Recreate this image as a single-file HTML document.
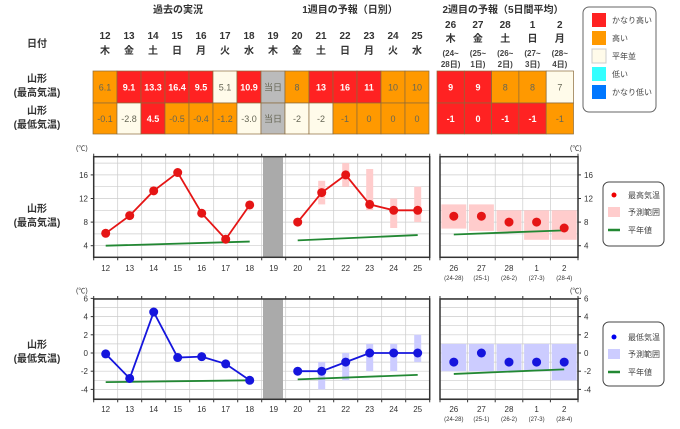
<!DOCTYPE html>
<html><head><meta charset="utf-8"><style>
body{margin:0;background:#fff;}
svg{display:block;font-family:"Liberation Sans","Noto Sans CJK JP",sans-serif;}
</style></head><body>
<svg width="680" height="429" viewBox="0 0 680 429" xmlns="http://www.w3.org/2000/svg">
<g font-size="10" font-weight="bold" fill="#333" text-anchor="middle">
<text x="178" y="13">過去の実況</text>
<text x="350" y="13">1週目の予報（日別）</text>
<text x="503" y="13">2週目の予報（5日間平均）</text>
<text x="37" y="47">日付</text>
<text x="37" y="82">山形</text><text x="37" y="96">(最高気温)</text>
<text x="37" y="114">山形</text><text x="37" y="128">(最低気温)</text>
<text x="37" y="212">山形</text><text x="37" y="226">(最高気温)</text>
<text x="37" y="348">山形</text><text x="37" y="362">(最低気温)</text>
</g>
<g id="tbl"></g>
<g id="charts"></g>
<!-- top legend -->
<rect x="583" y="7" width="73" height="105" rx="6" fill="#fff" stroke="#666"/>
<g font-size="8" fill="#444">
<rect x="592" y="13" width="14" height="14" fill="#f22"/><text x="612" y="23">かなり高い</text>
<rect x="592" y="31" width="14" height="14" fill="#f90"/><text x="612" y="41">高い</text>
<rect x="592" y="49" width="14" height="14" fill="#fffbea" stroke="#ccc"/><text x="612" y="59">平年並</text>
<rect x="592" y="67" width="14" height="14" fill="#3ff"/><text x="612" y="77">低い</text>
<rect x="592" y="85" width="14" height="14" fill="#07f"/><text x="612" y="95">かなり低い</text>
</g>
<!-- chart legends -->
<rect x="603" y="182" width="61" height="64" rx="6" fill="#fff" stroke="#444"/>
<g font-size="8" fill="#444">
<circle cx="614" cy="195" r="2.5" fill="#e00"/><text x="628" y="198">最高気温</text>
<rect x="608" y="207" width="12" height="10" fill="#fcc"/><text x="628" y="215">予測範囲</text>
<line x1="608" y1="230" x2="620" y2="230" stroke="#283" stroke-width="2.5"/><text x="628" y="233">平年値</text>
</g>
<rect x="603" y="322" width="61" height="64" rx="6" fill="#fff" stroke="#444"/>
<g font-size="8" fill="#444">
<circle cx="614" cy="337" r="2.5" fill="#00e"/><text x="628" y="340">最低気温</text>
<rect x="608" y="349" width="12" height="10" fill="#ccf"/><text x="628" y="357">予測範囲</text>
<line x1="608" y1="372" x2="620" y2="372" stroke="#283" stroke-width="2.5"/><text x="628" y="375">平年値</text>
</g>
</svg>
<script>
const NS="http://www.w3.org/2000/svg";
function el(p,t,a,txt){const e=document.createElementNS(NS,t);for(const k in a)e.setAttribute(k,a[k]);if(txt!==undefined)e.textContent=txt;p.appendChild(e);return e;}
const R="#f22",O="#f90",C="#fffbea",G="#bbb";
const tbl=document.getElementById('tbl');
const days=[12,13,14,15,16,17,18,19,20,21,22,23,24,25];
const wd=["木","金","土","日","月","火","水","木","金","土","日","月","火","水"];
const hi=[["6.1",O],["9.1",R],["13.3",R],["16.4",R],["9.5",R],["5.1",C],["10.9",R],["当日",G],["8",O],["13",R],["16",R],["11",R],["10",O],["10",O]];
const lo=[["-0.1",O],["-2.8",C],["4.5",R],["-0.5",O],["-0.4",O],["-1.2",O],["-3.0",C],["当日",G],["-2",C],["-2",C],["-1",O],["0",O],["0",O],["0",O]];
function cell(x,y,w,h,v){el(tbl,'rect',{x,y,width:w,height:h,fill:v[1],stroke:'#8a6a3a','stroke-width':0.7});
 const red=v[1]==R;el(tbl,'text',{x:x+w/2,y:y+h/2+3.5,'text-anchor':'middle','font-size':9,'font-weight':red?'bold':'normal',fill:red?'#fff':'#665'},v[0]);}
days.forEach((d,i)=>{const x=93+i*24;
 el(tbl,'text',{x:x+12,y:39,'text-anchor':'middle','font-size':10,'font-weight':'bold',fill:'#333'},d);
 el(tbl,'text',{x:x+12,y:54,'text-anchor':'middle','font-size':10,'font-weight':'bold',fill:'#333'},wd[i]);
 cell(x,71,24,32,hi[i]);cell(x,103,24,31,lo[i]);});
const w2=[[26,"木","(24~","28日)"],[27,"金","(25~","1日)"],[28,"土","(26~","2日)"],[1,"日","(27~","3日)"],[2,"月","(28~","4日)"]];
const hi2=[["9",R],["9",R],["8",O],["8",O],["7",C]],lo2=[["-1",R],["0",R],["-1",R],["-1",R],["-1",O]];
w2.forEach((d,i)=>{const x=437+i*27.3,cx=x+13.6;
 el(tbl,'text',{x:cx,y:28,'text-anchor':'middle','font-size':10,'font-weight':'bold',fill:'#333'},d[0]);
 el(tbl,'text',{x:cx,y:42,'text-anchor':'middle','font-size':10,'font-weight':'bold',fill:'#333'},d[1]);
 el(tbl,'text',{x:cx,y:56,'text-anchor':'middle','font-size':8,'font-weight':'bold',fill:'#444'},d[2]);
 el(tbl,'text',{x:cx,y:67,'text-anchor':'middle','font-size':8,'font-weight':'bold',fill:'#444'},d[3]);
 cell(x,71,27.3,32,hi2[i]);cell(x,103,27.3,31,lo2[i]);});

const ch=document.getElementById('charts');
const dx=d=>105.7+(d-12)*24; const wx=i=>453.8+i*27.6;
function chart(cfg){
 const {top,bot,vmin,vmax,step,gstep,Y,col,rc,act,fc,rng,nA,nF,w2v,w2r,w2n,labs,ly}=cfg;
 const L1=93.7,R1=429.7,L2=440,R2=578;
 [[L1,R1],[L2,R2]].forEach(([a,b])=>{
  for(let v=Math.ceil(vmin/gstep)*gstep;v<=vmax;v+=gstep)el(ch,'line',{x1:a,x2:b,y1:Y(v),y2:Y(v),stroke:'#ccc','stroke-width':0.7});
 });
 for(let i=0;i<=14;i++){const x=L1+i*24;if(i>0&&i<14)el(ch,'line',{x1:x,x2:x,y1:top,y2:bot,stroke:'#ccc','stroke-width':0.7});
  el(ch,'line',{x1:x,x2:x,y1:top-3,y2:top,stroke:'#333'});el(ch,'line',{x1:x,x2:x,y1:bot,y2:bot+3,stroke:'#333'});}
 for(let i=0;i<=5;i++){const x=L2+i*27.6;if(i>0&&i<5)el(ch,'line',{x1:x,x2:x,y1:top,y2:bot,stroke:'#ccc','stroke-width':0.7});
  el(ch,'line',{x1:x,x2:x,y1:top-3,y2:top,stroke:'#333'});el(ch,'line',{x1:x,x2:x,y1:bot,y2:bot+3,stroke:'#333'});}
 el(ch,'rect',{x:263,y:top,width:20,height:bot-top,fill:'#aaa'});
 // ranges
 rng.forEach((r,i)=>{if(!r)return;const x=dx(20+i);el(ch,'rect',{x:x-3.5,y:Y(r[1]),width:7,height:Y(r[0])-Y(r[1]),fill:rc});});
 w2r.forEach((r,i)=>{el(ch,'rect',{x:wx(i)-12.5,y:Y(r[1]),width:25,height:Y(r[0])-Y(r[1]),fill:rc});});
 // normals
 el(ch,'line',{x1:dx(12),x2:dx(18),y1:Y(nA[0]),y2:Y(nA[1]),stroke:'#283','stroke-width':1.8});
 el(ch,'line',{x1:dx(20),x2:dx(25),y1:Y(nF[0]),y2:Y(nF[1]),stroke:'#283','stroke-width':1.8});
 el(ch,'line',{x1:wx(0),x2:wx(4),y1:Y(w2n[0]),y2:Y(w2n[1]),stroke:'#283','stroke-width':1.8});
 // lines
 el(ch,'polyline',{points:act.map((v,i)=>dx(12+i)+','+Y(v)).join(' '),fill:'none',stroke:col,'stroke-width':1.8});
 el(ch,'polyline',{points:fc.map((v,i)=>dx(20+i)+','+Y(v)).join(' '),fill:'none',stroke:col,'stroke-width':1.8});
 act.forEach((v,i)=>el(ch,'circle',{cx:dx(12+i),cy:Y(v),r:4.5,fill:col}));
 fc.forEach((v,i)=>el(ch,'circle',{cx:dx(20+i),cy:Y(v),r:4.5,fill:col}));
 w2v.forEach((v,i)=>el(ch,'circle',{cx:wx(i),cy:Y(v),r:4.5,fill:col}));
 // frames
 el(ch,'rect',{x:L1,y:top,width:R1-L1,height:bot-top,fill:'none',stroke:'#333','stroke-width':1.5});
 el(ch,'rect',{x:L2,y:top,width:R2-L2,height:bot-top,fill:'none',stroke:'#333','stroke-width':1.5});
 labs.forEach(v=>{el(ch,'text',{x:88,y:Y(v)+3,'text-anchor':'end','font-size':8,fill:'#333'},v);
  el(ch,'line',{x1:R2,x2:R2+3,y1:Y(v),y2:Y(v),stroke:'#333'});
  el(ch,'text',{x:584,y:Y(v)+3,'font-size':8,fill:'#333'},v);
  el(ch,'line',{x1:L1-3,x2:L1,y1:Y(v),y2:Y(v),stroke:'#333'});});
 el(ch,'text',{x:76,y:top-6,'font-size':7,fill:'#333'},'(℃)');
 el(ch,'text',{x:570,y:top-6,'font-size':7,fill:'#333'},'(℃)');
 days.forEach(d=>el(ch,'text',{x:dx(d),y:ly,'text-anchor':'middle','font-size':8,fill:'#333'},d));
 const sub=["(24-28)","(25-1)","(26-2)","(27-3)","(28-4)"];
 w2.forEach((d,i)=>{el(ch,'text',{x:wx(i),y:ly,'text-anchor':'middle','font-size':8,fill:'#333'},d[0]);
  el(ch,'text',{x:wx(i),y:ly+9,'text-anchor':'middle','font-size':6,fill:'#333'},sub[i]);});
}
chart({top:156.7,bot:257.3,vmin:2,vmax:19,gstep:2,Y:v=>245.7-(v-4)*5.9,col:'#e51515',rc:'#fcc',
 act:[6.1,9.1,13.3,16.4,9.5,5.1,10.9],fc:[8,13,16,11,10,10],rng:[null,[11,15],[14,18],[10,17],[7,12],[8,14]],
 nA:[4.0,4.7],nF:[4.9,5.8],w2v:[9,9,8,8,7],w2r:[[6.9,11],[6.5,11],[6.4,10],[5,10],[5,10]],w2n:[5.9,6.6],labs:[4,8,12,16],ly:271});
chart({top:299,bot:399.3,vmin:-5,vmax:6,gstep:1,Y:v=>353-9.1*v,col:'#1515dd',rc:'#ccf',
 act:[-0.1,-2.8,4.5,-0.5,-0.4,-1.2,-3.0],fc:[-2,-2,-1,0,0,0],rng:[null,[-4,-1],[-3,0],[-2,1],[-2,1],[-1,2]],
 nA:[-3.2,-3.0],nF:[-2.9,-2.4],w2v:[-1,0,-1,-1,-1],w2r:[[-2,1],[-2,1],[-2,1],[-2,1],[-3,1]],w2n:[-2.3,-1.8],labs:[-4,-2,0,2,4,6],ly:412});
</script>
</body></html>
